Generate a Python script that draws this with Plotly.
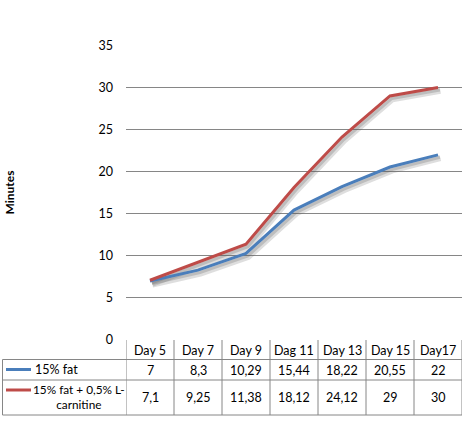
import plotly.graph_objects as go

days = ["Day 5", "Day 7", "Day 9", "Dag 11", "Day 13", "Day 15", "Day17"]
fat = [7, 8.3, 10.29, 15.44, 18.22, 20.55, 22]
fat_carn = [7.1, 9.25, 11.38, 18.12, 24.12, 29, 30]
names = ["15% fat", "15% fat + 0,5% L-<br>carnitine"]
colors = ["#4A7EBB", "#BE4B48"]

W, H = 467, 421
L, R, T, B = 126, 5, 45, 81
pw, ph = W - L - R, H - T - B
FONT = "Lato"


def px(x):
    return (x - L) / pw


def py(y):
    return (H - B - y) / ph


def fmt(v):
    return f"{v:g}".replace(".", ",")


xs = list(range(len(days)))
fig = go.Figure()

# soft shadow under the lines
for ys in (fat, fat_carn):
    fig.add_trace(go.Scatter(
        x=[x + 0.05 for x in xs], y=[y - 0.4 for y in ys], mode="lines",
        line=dict(color="rgba(90,90,90,0.2)", width=6), hoverinfo="skip"))
    fig.add_trace(go.Scatter(
        x=[x + 0.04 for x in xs], y=[y - 0.3 for y in ys], mode="lines",
        line=dict(color="rgba(90,90,90,0.25)", width=3), hoverinfo="skip"))

for ys, name, c in zip((fat, fat_carn), names, colors):
    fig.add_trace(go.Scatter(x=xs, y=ys, mode="lines", name=name,
                             line=dict(color=c, width=3)))

grid = "#868686"
shapes = []
ann = []

# table grid
rows = [340, 359.5, 380, 415]
for y in rows[1:]:
    shapes.append(dict(type="line", xref="paper", yref="paper",
                       x0=px(2.5), x1=px(462), y0=py(y), y1=py(y),
                       line=dict(color=grid, width=1)))
shapes.append(dict(type="line", xref="paper", yref="paper",
                   x0=px(2.5), x1=px(2.5), y0=py(359.5), y1=py(415),
                   line=dict(color=grid, width=1)))
for i in range(len(days) + 1):
    shapes.append(dict(type="line", xref="x", yref="paper",
                       x0=i - 0.5, x1=i - 0.5, y0=py(340), y1=py(415),
                       line=dict(color=grid, width=1)))

tf = dict(family=FONT, size=12.5, color="#000000")
lf = dict(family=FONT, size=11.8, color="#000000")
for i, d in enumerate(days):
    ann.append(dict(x=i, y=py(350), xref="x", yref="paper", text=d,
                    showarrow=False, font=tf, yanchor="middle"))
    ann.append(dict(x=i, y=py(370), xref="x", yref="paper", text=fmt(fat[i]),
                    showarrow=False, font=tf, yanchor="middle"))
    ann.append(dict(x=i, y=py(397.5), xref="x", yref="paper",
                    text=fmt(fat_carn[i]), showarrow=False, font=tf,
                    yanchor="middle"))

# row labels with legend keys
for ly, c in ((369.5, colors[0]), (390, colors[1])):
    shapes.append(dict(type="line", xref="paper", yref="paper",
                       x0=px(6), x1=px(31), y0=py(ly), y1=py(ly),
                       line=dict(color=c, width=3)))
ann.append(dict(x=px(33), y=py(369.5), xref="paper", yref="paper",
                text=names[0], showarrow=False, xanchor="left",
                yanchor="middle", font=tf))
ann.append(dict(x=px(79), y=py(397), xref="paper", yref="paper",
                text=names[1], showarrow=False, xanchor="center",
                yanchor="middle", align="center", font=lf))

ann.append(dict(x=px(9), y=0.5, xref="paper", yref="paper", text="<b>Minutes</b>",
                textangle=-90, showarrow=False, xanchor="center",
                yanchor="middle",
                font=dict(family=FONT, size=12, color="#000000")))

fig.update_layout(
    width=W, height=H,
    margin=dict(l=L, r=R, t=T, b=B),
    paper_bgcolor="white", plot_bgcolor="white",
    showlegend=False,
    xaxis=dict(range=[-0.5, len(days) - 0.5], showticklabels=False,
               showgrid=False, zeroline=False, showline=False, fixedrange=True),
    yaxis=dict(range=[0, 35.05], dtick=5, showgrid=True, gridcolor=grid,
               gridwidth=1, zeroline=False, showline=False, ticks="",
               ticklabelstandoff=12,
               tickfont=dict(family=FONT, size=12.5, color="#000000")),
    shapes=shapes,
    annotations=ann,
)

fig.write_html("out.html", config={"displayModeBar": False},
               post_script="document.body.style.margin='0';")
